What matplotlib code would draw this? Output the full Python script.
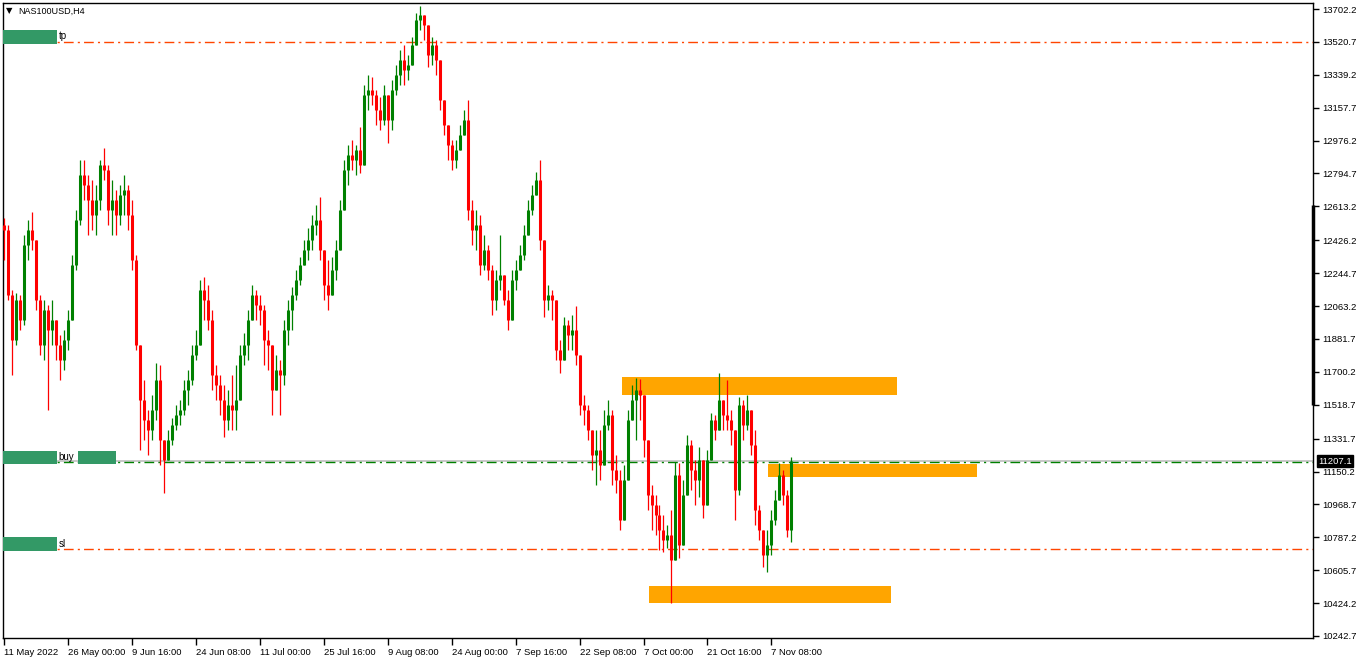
import numpy as np
import matplotlib.pyplot as plt
from matplotlib.patches import Rectangle
import matplotlib.transforms as mtransforms

plt.rcParams['font.family'] = ['Liberation Sans', 'DejaVu Sans']

symbol = "NAS100USD,H4"

# H4 candles, one value every 4 bars
highs = [12549, 12510, 12152, 12135, 12124, 12455, 12538, 12582, 12428, 12124,
         12097, 12069, 12097, 11986, 11903, 11931, 12041, 12345, 12593, 12869,
         12869, 12786, 12759, 12731, 12869, 12935, 12842, 12759, 12704, 12731,
         12786, 12731, 12648, 12345, 11738, 11655, 11489, 11572, 11749, 11738,
         11324, 11379, 11446, 11517, 11545, 11655, 11710, 11848, 11931, 12207,
         12224, 12179, 12041, 11738, 11683, 11628, 11600, 11683, 11738, 11848,
         11915, 12041, 12179, 12152, 12124, 12069, 11931, 11820, 11793, 11765,
         11986, 12097, 12168, 12262, 12334, 12428, 12494, 12566, 12621, 12665,
         12372, 12317, 12334, 12428, 12648, 12869, 12952, 12979, 12952, 13051,
         13283, 13338, 13327, 13255, 13217, 13283, 13228, 13311, 13393, 13476,
         13504, 13449, 13548, 13680, 13719, 13669, 13614, 13548, 13531, 13421,
         13200, 13062, 12979, 12979, 13062, 13145, 13200, 12648, 12593, 12566,
         12455, 12400, 12290, 12262, 12455, 12235, 12152, 12262, 12317, 12400,
         12510, 12648, 12731, 12803, 12869, 12428, 12179, 12152, 12058, 11876,
         12003, 11986, 12014, 12063, 11793, 11572, 11517, 11352, 11379, 11379,
         11489, 11545, 11489, 11241, 11158, 11186, 11489, 11628, 11666, 11661,
         11572, 11324, 11076, 11021, 10966, 10910, 10855, 10938, 11203, 11197,
         11103, 11352, 11324, 11214, 11285, 11103, 11269, 11473, 11462, 11694,
         11545, 11655, 11489, 11324, 11561, 11545, 11572, 11434, 11379, 10966,
         10800, 10827, 10938, 11048, 11197, 11158, 11048, 11230]
lows = [12317, 12097, 11683, 11848, 11931, 11959, 12317, 12372, 12041, 11793,
        11765, 11489, 11848, 11765, 11655, 11710, 11820, 11986, 12262, 12510,
        12648, 12455, 12483, 12455, 12593, 12759, 12510, 12455, 12455, 12510,
        12566, 12483, 12262, 11820, 11269, 11324, 11241, 11324, 11434, 11186,
        11032, 11214, 11296, 11379, 11407, 11462, 11517, 11628, 11765, 11903,
        11986, 11931, 11600, 11545, 11462, 11341, 11379, 11379, 11379, 11572,
        11738, 11765, 11986, 11986, 11959, 11738, 11710, 11462, 11600, 11462,
        11628, 11848, 11931, 12097, 12179, 12290, 12317, 12372, 12455, 12317,
        12097, 12041, 12179, 12207, 12372, 12593, 12731, 12814, 12786, 12797,
        12869, 13145, 13173, 13062, 13035, 13062, 12963, 13035, 13228, 13283,
        13283, 13311, 13421, 13504, 13586, 13531, 13382, 13393, 13338, 13145,
        13007, 12869, 12814, 12825, 12924, 13007, 12538, 12400, 12372, 12235,
        12262, 12207, 12014, 12041, 12152, 12069, 11931, 11986, 12152, 12262,
        12317, 12455, 12566, 12676, 12372, 12003, 12041, 11986, 11765, 11694,
        11765, 11820, 11820, 11738, 11462, 11407, 11324, 11158, 11076, 11103,
        11214, 11379, 11076, 11032, 10827, 10938, 11158, 11434, 11324, 11434,
        11230, 10938, 10827, 10800, 10717, 10706, 10728, 10424, 10938, 10673,
        10772, 11048, 11048, 10966, 11010, 10894, 11048, 11296, 11324, 11462,
        11379, 11379, 11296, 10883, 11021, 11324, 11379, 11241, 10855, 10772,
        10623, 10596, 10690, 10855, 10993, 10966, 10789, 10761]
closes = [12483, 12124, 11876, 12097, 11986, 12400, 12483, 12428, 12097, 11848,
          12041, 11931, 11986, 11848, 11765, 11876, 11986, 12290, 12538, 12786,
          12731, 12648, 12566, 12648, 12842, 12814, 12593, 12648, 12566, 12676,
          12704, 12566, 12317, 11848, 11545, 11434, 11379, 11489, 11655, 11324,
          11214, 11324, 11407, 11462, 11489, 11600, 11655, 11793, 11848, 12152,
          12097, 11986, 11683, 11628, 11545, 11434, 11517, 11489, 11545, 11793,
          11848, 11986, 12124, 12069, 12041, 11876, 11848, 11600, 11710, 11683,
          11931, 12041, 12124, 12207, 12290, 12372, 12428, 12510, 12538, 12372,
          12179, 12124, 12262, 12372, 12593, 12814, 12897, 12869, 12924, 12842,
          13228, 13255, 13228, 13145, 13090, 13228, 13090, 13255, 13338, 13421,
          13366, 13393, 13504, 13642, 13669, 13614, 13449, 13504, 13421, 13200,
          13062, 12952, 12869, 12924, 13007, 13090, 12593, 12483, 12510, 12290,
          12372, 12262, 12097, 12207, 12235, 12097, 11986, 12207, 12262, 12345,
          12455, 12593, 12676, 12759, 12428, 12097, 12124, 12097, 11820, 11765,
          11959, 11903, 11931, 11793, 11517, 11489, 11379, 11241, 11269, 11186,
          11407, 11462, 11158, 11103, 10883, 11103, 11434, 11545, 11600, 11572,
          11324, 11021, 10966, 10910, 10827, 10772, 10800, 10662, 11131, 10745,
          11021, 11296, 11158, 11103, 11214, 10966, 11214, 11434, 11379, 11545,
          11462, 11434, 11379, 11048, 11517, 11407, 11489, 11296, 10938, 10827,
          10690, 10745, 10883, 10993, 11131, 11021, 10827, 11207.1]
first_open = 12510

date_bars = [0, 16, 32, 48, 64, 80, 96, 112, 128, 144, 160, 176, 192]
date_labels = ["11 May 2022", "26 May 00:00", "9 Jun 16:00", "24 Jun 08:00",
               "11 Jul 00:00", "25 Jul 16:00", "9 Aug 08:00", "24 Aug 00:00",
               "7 Sep 16:00", "22 Sep 08:00", "7 Oct 00:00", "21 Oct 16:00",
               "7 Nov 08:00"]

price_ticks = [13702.2, 13520.7, 13339.2, 13157.7, 12976.2, 12794.7, 12613.2,
               12426.2, 12244.7, 12063.2, 11881.7, 11700.2, 11518.7, 11331.7,
               11150.2, 10968.7, 10787.2, 10605.7, 10424.2, 10242.7]

# trade levels
tp_level = 13520.7
buy_level = 11200.0
sl_level = 10722.0
bid_price = 11207.1

# supply / demand zones (bar index, price)
zone_left = [154.5, 191.25, 161.25]
zone_right = [223.5, 243.5, 222.0]
zone_top = [11672, 11192, 10518]
zone_bottom = [11572, 11120, 10424]

# range marker on the price scale
range_top = 12621
range_bottom = 11517

up_color = '#008000'
down_color = '#FF0000'
level_red = '#FF4500'
zone_color = '#FFA500'
box_color = '#339966'

opens = [first_open] + closes[:-1]

W, H = 1362, 660
fig = plt.figure(figsize=(W / 100, H / 100), dpi=100)
ax = fig.add_axes([3 / W, 22 / H, 1310 / W, 635 / H])
ax.set_xlim(-0.25, 327.5)
ax.set_ylim(10231.5, 13735.4)

# zones behind the candles
for l, r, t, b in zip(zone_left, zone_right, zone_top, zone_bottom):
    ax.add_patch(Rectangle((l, b), r - l, t - b, facecolor=zone_color,
                           edgecolor='none', zorder=1))

# level lines
ax.axhline(bid_price, color='#C0C0C0', linewidth=1.2, zorder=2)
ax.axhline(tp_level, color=level_red, linewidth=1, dashes=(7, 3, 1.5, 3), zorder=2)
ax.axhline(buy_level, color=up_color, linewidth=1, dashes=(7, 3, 1.5, 3), zorder=2)
ax.axhline(sl_level, color=level_red, linewidth=1, dashes=(7, 3, 1.5, 3), zorder=2)

# candles
x = np.arange(len(closes))
o = np.array(opens, dtype=float)
c = np.array(closes, dtype=float)
hi = np.maximum(np.array(highs, dtype=float), np.maximum(o, c))
lo = np.minimum(np.array(lows, dtype=float), np.minimum(o, c))
cols = [up_color if c[i] >= o[i] else down_color for i in range(len(c))]
ax.vlines(x, lo, hi, colors=cols, linewidth=0.9, zorder=3)
ax.vlines(x, np.minimum(o, c), np.maximum(o, c), colors=cols, linewidth=2.2, zorder=3)

# trade labels on the left
trans = mtransforms.blended_transform_factory(ax.transAxes, ax.transData)
for lvl, name in [(tp_level, 'tp'), (buy_level, 'buy'), (sl_level, 'sl')]:
    ax.add_patch(Rectangle((0, lvl - 11), 0.0412, 77, transform=trans,
                           facecolor=box_color, edgecolor='none', zorder=4))
    ax.text(0.0425, lvl + 30, name, transform=trans, fontsize=7, va='center',
            ha='left', color='black', zorder=5)
ax.add_patch(Rectangle((0.0573, buy_level - 11), 0.029, 77, transform=trans,
                       facecolor=box_color, edgecolor='none', zorder=4))

# axes styling
for s in ax.spines.values():
    s.set_color('black')
    s.set_linewidth(1)
ax.yaxis.tick_right()
ax.set_yticks(price_ticks)
ax.set_yticklabels(['%.1f' % p for p in price_ticks])
ax.tick_params(axis='y', direction='out', length=4, width=1, labelsize=6.8, pad=3)
ax.set_xticks(date_bars)
ax.set_xticklabels(date_labels, ha='left')
ax.tick_params(axis='x', direction='out', length=5, width=1, labelsize=6.8, pad=2)

ax.plot([327.5, 327.5], [range_bottom, range_top], color='black', linewidth=2.5,
        clip_on=False, zorder=6, solid_capstyle='butt')

ax.text(1.004, bid_price, '%.1f' % bid_price, transform=trans, fontsize=6.8,
        color='white', va='center', ha='left',
        bbox=dict(boxstyle='square,pad=0.15', facecolor='black', edgecolor='black'))

fig.text(6 / W, 1 - 11 / H, '\u25bc', fontsize=6, va='center', ha='left',
         family=['DejaVu Sans'])
fig.text(18 / W, 1 - 11 / H, symbol, fontsize=6.5, va='center', ha='left')

fig.savefig('out.png', dpi=100, facecolor='white')
